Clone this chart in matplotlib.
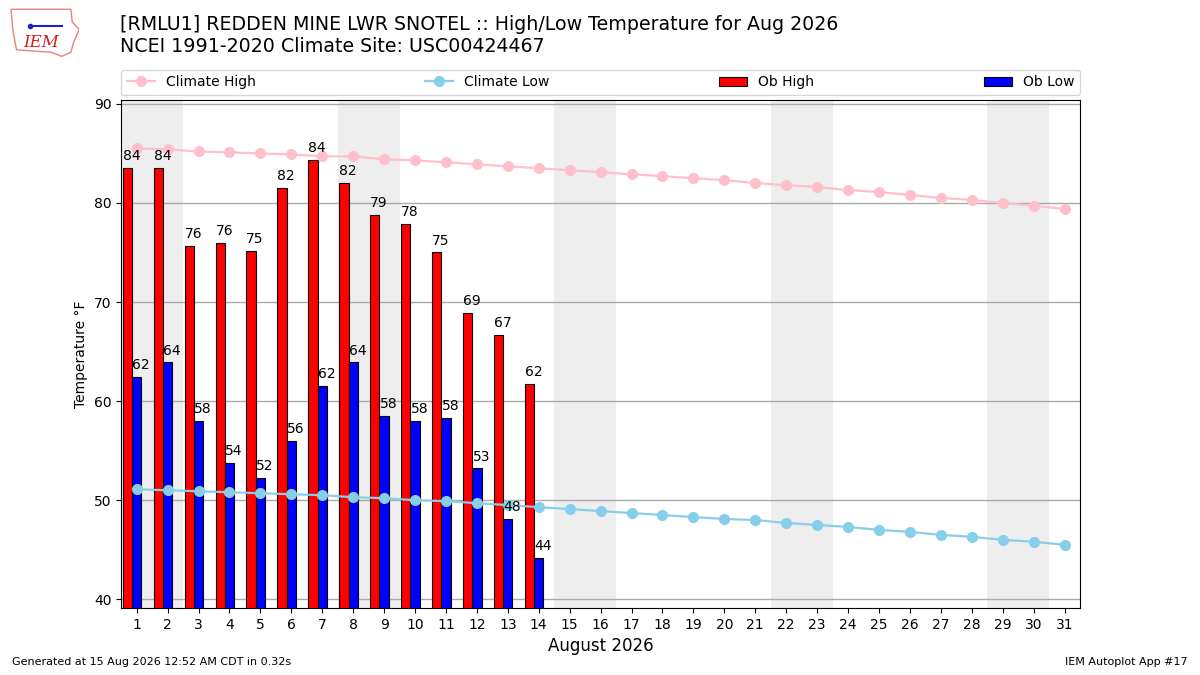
import numpy as np
import matplotlib
matplotlib.use("Agg")
import matplotlib.pyplot as plt
from matplotlib.patches import Patch, Polygon

# --- Datos -------------------------------------------------------------------
days = np.arange(1, 32)
clim_high = [85.5, 85.4, 85.2, 85.1, 85.0, 84.9, 84.7, 84.7, 84.4, 84.3, 84.1,
             83.9, 83.7, 83.5, 83.3, 83.1, 82.9, 82.7, 82.5, 82.3, 82.0, 81.8,
             81.6, 81.3, 81.1, 80.8, 80.5, 80.3, 80.0, 79.7, 79.4]
clim_low = [51.1, 51.0, 50.9, 50.8, 50.7, 50.6, 50.5, 50.3, 50.2, 50.0, 49.9,
            49.7, 49.5, 49.3, 49.1, 48.9, 48.7, 48.5, 48.3, 48.1, 48.0, 47.7,
            47.5, 47.3, 47.0, 46.8, 46.5, 46.3, 46.0, 45.8, 45.5]
ob_days = np.arange(1, 15)
ob_high = [83.5, 83.5, 75.7, 76.0, 75.2, 81.5, 84.3, 82.0, 78.8, 77.9, 75.0,
           68.9, 66.7, 61.7]
ob_low = [62.4, 63.9, 58.0, 53.8, 52.2, 56.0, 61.5, 63.9, 58.5, 58.0, 58.3,
          53.2, 48.1, 44.2]
weekends = [1, 8, 15, 22, 29]   # primer dia de cada fin de semana

title = ("[RMLU1] REDDEN MINE LWR SNOTEL :: High/Low Temperature for Aug 2026\n"
         "NCEI 1991-2020 Climate Site: USC00424467")

# --- Figura ------------------------------------------------------------------
fig = plt.figure(figsize=(12, 6.75), dpi=100)
ax = fig.add_axes([0.101, 0.099, 0.799, 0.753])

for d in weekends:
    ax.axvspan(d - 0.5, d + 1.5, color='#EEEEEE', zorder=0, lw=0)

ax.grid(axis='y', color='#AAAAAA', lw=1, zorder=1)
ax.set_axisbelow(True)

ax.bar(ob_days - 0.3, ob_high, width=0.3, fc='r', ec='k', lw=0.8, zorder=2)
ax.bar(ob_days, ob_low, width=0.3, fc='b', ec='k', lw=0.8, zorder=2)

for x, v in zip(ob_days, ob_high):
    ax.text(x - 0.17, v + 0.5, f"{v:.0f}", ha='center', va='bottom', fontsize=10, zorder=4)
for x, v in zip(ob_days, ob_low):
    ax.text(x + 0.14, v + 0.5, f"{v:.0f}", ha='center', va='bottom', fontsize=10, zorder=4)

ax.plot(days, clim_high, color='pink', marker='o', ms=7, lw=1.6, zorder=3)
ax.plot(days, clim_low, color='skyblue', marker='o', ms=7, lw=1.6, zorder=3)

ax.set_xlim(0.5, 31.5)
ax.set_ylim(39.1, 90.4)
ax.set_xticks(days)
ax.set_yticks(range(40, 91, 10))
ax.tick_params(labelsize=10)
ax.set_ylabel("Temperature °F", fontsize=10)
ax.set_xlabel("August 2026", fontsize=12)

handles = [
    plt.Line2D([], [], color='pink', marker='o', ms=7, lw=1.6, label='Climate High'),
    plt.Line2D([], [], color='skyblue', marker='o', ms=7, lw=1.6, label='Climate Low'),
    Patch(fc='r', ec='k', lw=0.8, label='Ob High'),
    Patch(fc='b', ec='k', lw=0.8, label='Ob Low'),
]
ax.legend(handles=handles, ncol=4, mode='expand', loc='lower left',
          bbox_to_anchor=(0, 1.01, 1, 0.05), borderaxespad=0, fontsize=10)

fig.text(0.1, 0.978, title, ha='left', va='top', fontsize=13.7, linespacing=1.2)

# --- Logo (aprox) -------------------------------------------------------------
lax = fig.add_axes([0.008, 0.915, 0.058, 0.075])
lax.add_patch(Polygon([(0.02, 0.95), (0.88, 0.95), (0.9, 0.7), (1.0, 0.55),
                       (0.92, 0.3), (0.88, 0.1), (0.75, 0.02), (0.6, 0.1),
                       (0.1, 0.15), (0.05, 0.5)],
                      closed=True, fill=False, ec='#E88080', lw=1))
lax.text(0.45, 0.3, "IEM", color='#D02020', fontsize=12, family='serif',
         style='italic', ha='center', va='center')
lax.plot([0.3, 0.75], [0.62, 0.62], color='#2020C0', lw=1.5)
lax.plot([0.3], [0.62], 'o', color='#2020C0', ms=3)
lax.set_xlim(0, 1)
lax.set_ylim(0, 1)
lax.axis('off')

fig.text(0.01, 0.015, "Generated at 15 Aug 2026 12:52 AM CDT in 0.32s", fontsize=8)
fig.text(0.99, 0.015, "IEM Autoplot App #17", fontsize=8, ha='right')

fig.savefig("out.png", dpi=100)
